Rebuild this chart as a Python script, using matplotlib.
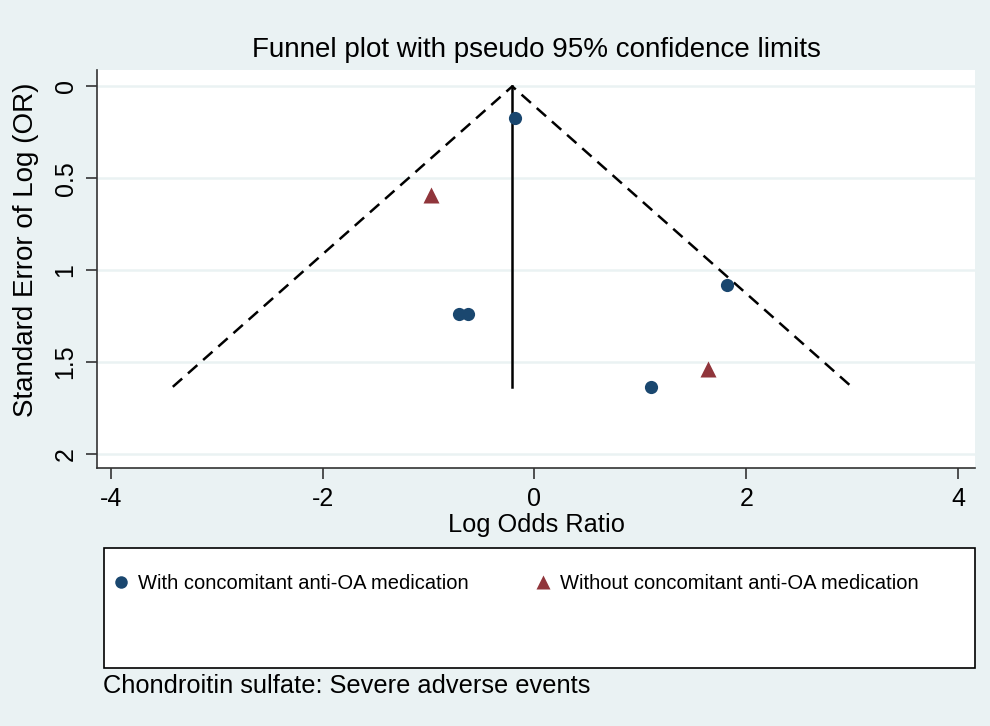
import matplotlib
matplotlib.use("Agg")
from matplotlib import pyplot as plt
from matplotlib.lines import Line2D
from matplotlib.patches import Rectangle

plt.rcParams['font.family'] = ['Liberation Sans', 'DejaVu Sans']

# study estimates: log odds ratio and its standard error
with_lor = [-0.18, -0.71, -0.63, 1.82, 1.10]
with_se = [0.17, 1.24, 1.24, 1.08, 1.635]
without_lor = [-0.98, 1.64]
without_se = [0.59, 1.54]
pooled = -0.21

x_ticks = [-4, -2, 0, 2, 4]
y_ticks = [0, 0.5, 1, 1.5, 2]
y_ticklabels = ['0', '0.5', '1', '1.5', '2']

bg = '#EAF2F3'
navy = '#1A476F'
maroon = '#90353B'

fig = plt.figure(figsize=(9.9, 7.26), dpi=100, facecolor=bg)
ax = fig.add_axes([0.098, 0.3558, 0.887, 0.548])
ax.set_facecolor('white')

se_max = max(with_se + without_se)
for y in y_ticks:
    ax.axhline(y, color=bg, lw=1.8, zorder=0)

# pseudo 95% limits and pooled estimate
ax.plot([pooled - 1.96 * se_max, pooled, pooled + 1.96 * se_max], [se_max, 0, se_max],
        color='black', lw=1.8, ls=(0, (5, 3.1)), zorder=2)
ax.plot([pooled, pooled], [0, se_max], color='black', lw=1.8, zorder=2)

ax.plot(with_lor, with_se, 'o', color=navy, ms=9.5, mec='none', zorder=3)
ax.plot(without_lor, without_se, '^', color=maroon, ms=11, mec='none', zorder=3)

ax.set_xlim(-4.13, 4.16)
ax.set_ylim(2.075, -0.09)
ax.set_xticks(x_ticks)
ax.set_xticklabels([str(t) for t in x_ticks])
ax.set_yticks(y_ticks)
ax.set_yticklabels(y_ticklabels, rotation=90, va='center')
ax.tick_params(axis='both', labelsize=18, length=8, width=1.2, color='#333333')
ax.tick_params(axis='x', pad=6)
ax.tick_params(axis='y', pad=6)
for side in ['top', 'right']:
    ax.spines[side].set_visible(False)
for side in ['left', 'bottom']:
    ax.spines[side].set_linewidth(1.2)
    ax.spines[side].set_color('#333333')

ax.set_xlabel('Log Odds Ratio', fontsize=18.3, labelpad=1)
ax.set_ylabel('Standard Error of Log (OR)', fontsize=20)
ax.yaxis.set_label_coords(-0.066, 0.548)
ax.set_title('Funnel plot with pseudo 95% confidence limits', fontsize=20, pad=9)

# legend box
fig.patches.append(Rectangle((0.105, 0.0799), 0.88, 0.165, transform=fig.transFigure,
                             facecolor='white', edgecolor='black', lw=1.2, zorder=0))
handles = [Line2D([], [], ls='none', marker='o', color=navy, ms=9, mec='none'),
           Line2D([], [], ls='none', marker='^', color=maroon, ms=10.5, mec='none')]
labels = ['With concomitant anti-OA medication', 'Without concomitant anti-OA medication']
fig.legend(handles, labels, loc='upper left', bbox_to_anchor=(0.104, 0.220),
           ncol=2, frameon=False, fontsize=14.5, handlelength=1.0, handletextpad=0.35,
           columnspacing=3.2, borderaxespad=0)

fig.text(0.104, 0.055, 'Chondroitin sulfate: Severe adverse events', fontsize=18.3, va='center')

fig.savefig('out.png', dpi=100, facecolor=bg)
